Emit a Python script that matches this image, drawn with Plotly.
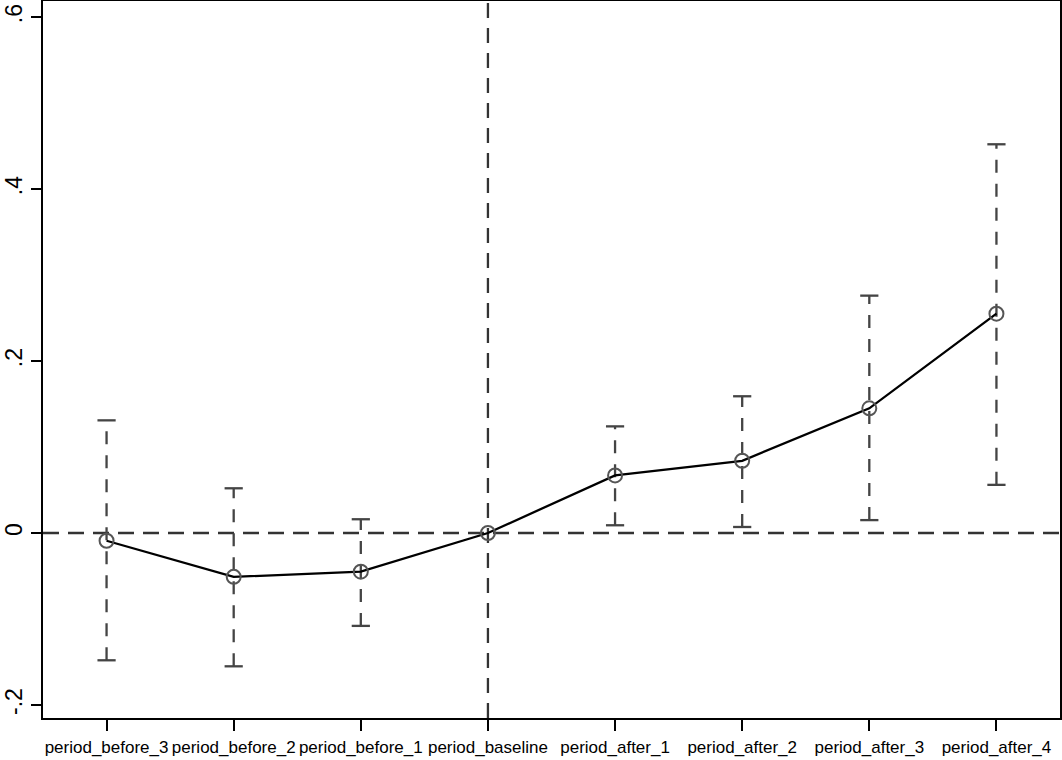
import plotly.graph_objects as go

categories = ["period_before_3", "period_before_2", "period_before_1", "period_baseline",
              "period_after_1", "period_after_2", "period_after_3", "period_after_4"]
coef = [-0.009, -0.051, -0.045, 0.0, 0.067, 0.084, 0.145, 0.255]
ci_low = [-0.148, -0.155, -0.108, None, 0.009, 0.007, 0.015, 0.056]
ci_high = [0.131, 0.052, 0.016, None, 0.124, 0.159, 0.276, 0.452]
baseline_cat = "period_baseline"
y_tickvals = [-0.2, 0, 0.2, 0.4, 0.6]
y_ticktext = ["-.2", "0", ".2", ".4", ".6"]

FONT = "Liberation Sans, Arial, sans-serif"

fig = go.Figure()

ex, ey = [], []
cx, cy = [], []
for c, lo, hi in zip(categories, ci_low, ci_high):
    if lo is None:
        continue
    ex += [c, c, None]
    ey += [lo, hi, None]
    cx += [c, c]
    cy += [lo, hi]

fig.add_trace(go.Scatter(x=ex, y=ey, mode="lines",
                         line=dict(color="#444444", width=2.3, dash="13px,11px"),
                         hoverinfo="skip", showlegend=False))
fig.add_trace(go.Scatter(x=cx, y=cy, mode="markers",
                         marker=dict(symbol="line-ew", size=13, color="#444444",
                                     line=dict(color="#444444", width=2.3)),
                         hoverinfo="skip", showlegend=False))
fig.add_trace(go.Scatter(x=categories, y=coef, mode="lines",
                         line=dict(color="black", width=2.3), showlegend=False))
fig.add_trace(go.Scatter(x=categories, y=coef, mode="markers",
                         marker=dict(symbol="circle-open", size=14, color="#555555",
                                     line=dict(color="#555555", width=2)),
                         showlegend=False))

fig.add_shape(type="line", xref="paper", yref="y", x0=0, x1=1, y0=0, y1=0,
              line=dict(color="#333333", width=2.3, dash="16px,9px"), layer="below")
fig.add_shape(type="line", xref="x", yref="paper", x0=baseline_cat, x1=baseline_cat, y0=0, y1=1,
              line=dict(color="#333333", width=2.3, dash="15px,10px"), layer="below")

fig.update_layout(
    width=1062, height=760,
    margin=dict(l=43, r=2, t=1, b=42),
    plot_bgcolor="white", paper_bgcolor="white",
    font=dict(family=FONT, color="black"),
    xaxis=dict(type="category", categoryorder="array", categoryarray=categories,
               range=[-0.5, 7.5], showgrid=False, zeroline=False, automargin=False,
               showline=True, linecolor="black", linewidth=2, mirror=True,
               ticks="outside", ticklen=11, tickwidth=2, tickcolor="black",
               ticklabelstandoff=2,
               tickfont=dict(size=17, family=FONT, color="black")),
    yaxis=dict(range=[-0.2151, 0.6186], showgrid=False, zeroline=False, automargin=False,
               showline=True, linecolor="black", linewidth=2, mirror=True,
               ticks="outside", ticklen=10, tickwidth=2, tickcolor="black",
               tickvals=y_tickvals, ticktext=y_ticktext, tickangle=-90,
               tickfont=dict(size=23, family=FONT, color="black")),
)

fig.write_html("out.html", config={"displayModeBar": False},
               post_script="document.body.style.margin='0';document.body.style.overflow='hidden';")
